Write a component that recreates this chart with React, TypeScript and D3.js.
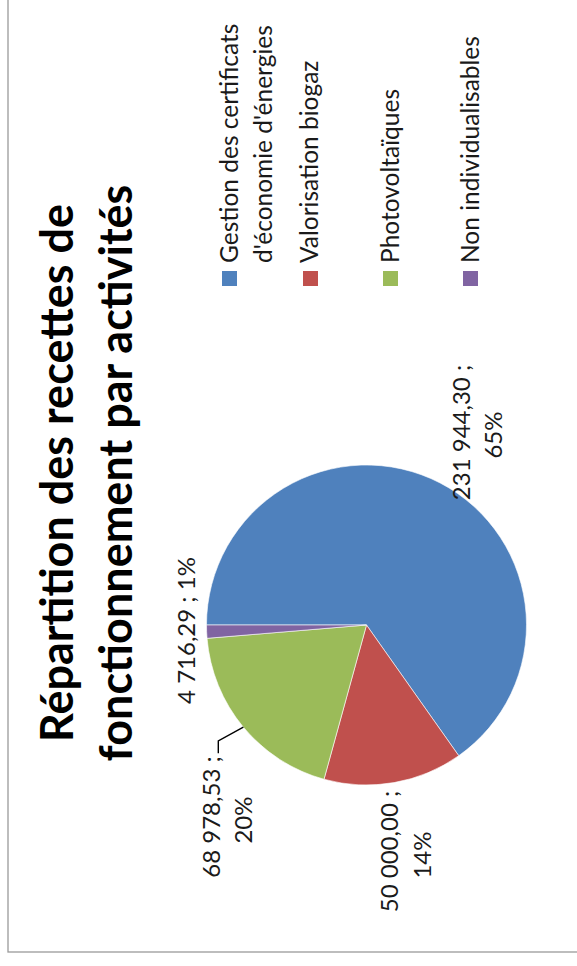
import React from "react";
import * as d3 from "d3";

// ---------- data ----------
const categories = [
  "Gestion des certificats d'économie d'énergies",
  "Valorisation biogaz",
  "Photovoltaïques",
  "Non individualisables",
];
const legendLines = [
  ["Gestion des certificats", "d'économie d'énergies"],
  ["Valorisation biogaz"],
  ["Photovoltaïques"],
  ["Non individualisables"],
];
const values = [231944.3, 50000.0, 68978.53, 4716.29];
const percentLabels = ["65%", "14%", "20%", "1%"];
const colors = ["#4F81BD", "#C0504D", "#9BBB59", "#8064A2"];
const titleLines = ["Répartition des recettes de", "fonctionnement par activités"];

// ---------- layout (chart drawn unrotated, then turned -90°) ----------
const PAGE_W = 577;
const PAGE_H = 966;
const ORIGIN = { x: 8, y: 952 };
const CHART = { w: 990, h: 620 };
const PIE = { cx: 327, cy: 358.5, r: 160 };
const TITLE = { cx: 479, baselines: [65, 124], size: 45 };
const LEGEND = {
  swatchX: 666,
  swatch: 15,
  textX: 689,
  swatchY: [214, 295, 375, 455],
  baselines: [[230, 264], [310], [391], [471]],
  size: 24.5,
};
const LABEL_SIZE = 24;
// per slice: lines [center x, baseline y]
const labelLayout = [
  [[519.5, 462], [517, 494]],
  [[100.5, 390], [97, 423]],
  [[135, 212], [132, 244]],
  [[321.5, 187]],
];
// leader line (green slice): elbow and end points
const leaderIndex = 2;
const leaderPts = [[211, 210.3], [198.7, 210.3]];

const fr = d3.formatLocale({
  decimal: ",",
  thousands: "\u00a0",
  grouping: [3],
  currency: ["", " €"],
});
const fmtValue = fr.format(",.2f");

const FONT = "Lato, 'Open Sans', sans-serif";

export default function App() {
  const pie = d3.pie<number>().sort(null).value((d) => d);
  const arcs = pie(values);
  const arc = d3.arc<d3.PieArcDatum<number>>().innerRadius(0).outerRadius(PIE.r);

  const labelTexts = values.map((v, i) => {
    const val = fmtValue(v);
    if (labelLayout[i].length === 1) return [`${val} ; ${percentLabels[i]}`];
    return [`${val} ;`, percentLabels[i]];
  });

  const la = arcs[leaderIndex];
  const mid = (la.startAngle + la.endAngle) / 2;
  const leaderStart: [number, number] = [
    PIE.cx + PIE.r * Math.sin(mid),
    PIE.cy - PIE.r * Math.cos(mid),
  ];
  const leaderPath = d3.line()([leaderStart, ...(leaderPts as [number, number][])]);

  return (
    <svg
      width={PAGE_W}
      height={PAGE_H}
      style={{ position: "absolute", left: 0, top: 0, background: "#fff" }}
    >
      <g transform={`translate(${ORIGIN.x},${ORIGIN.y}) rotate(-90)`}>
        <rect
          x={0}
          y={0}
          width={CHART.w}
          height={CHART.h}
          fill="#fff"
          stroke="#9a9a9a"
          strokeWidth={1.3}
        />
        {/* title */}
        {titleLines.map((t, i) => (
          <text
            key={t}
            x={TITLE.cx}
            y={TITLE.baselines[i]}
            textAnchor="middle"
            fontFamily={FONT}
            fontWeight={700}
            fontSize={TITLE.size}
            fill="#000"
          >
            {t}
          </text>
        ))}
        {/* pie */}
        <g transform={`translate(${PIE.cx},${PIE.cy})`}>
          {arcs.map((a, i) => (
            <path
              key={categories[i]}
              d={arc(a) || ""}
              fill={colors[i]}
              stroke="#fff"
              strokeWidth={0.6}
            />
          ))}
        </g>
        {/* leader */}
        <path d={leaderPath || ""} fill="none" stroke="#000" strokeWidth={1.4} />
        {/* data labels */}
        {labelTexts.map((lines, i) =>
          lines.map((t, j) => (
            <text
              key={`${i}-${j}`}
              x={labelLayout[i][j][0]}
              y={labelLayout[i][j][1]}
              textAnchor="middle"
              fontFamily={FONT}
              fontSize={LABEL_SIZE}
              fill="#1a1a1a"
            >
              {t}
            </text>
          ))
        )}
        {/* legend */}
        {categories.map((c, i) => (
          <g key={c}>
            <rect
              x={LEGEND.swatchX}
              y={LEGEND.swatchY[i]}
              width={LEGEND.swatch}
              height={LEGEND.swatch}
              fill={colors[i]}
            />
            {legendLines[i].map((t, j) => (
              <text
                key={t}
                x={LEGEND.textX}
                y={LEGEND.baselines[i][j]}
                fontFamily={FONT}
                fontSize={LEGEND.size}
                fill="#1a1a1a"
              >
                {t}
              </text>
            ))}
          </g>
        ))}
      </g>
    </svg>
  );
}
